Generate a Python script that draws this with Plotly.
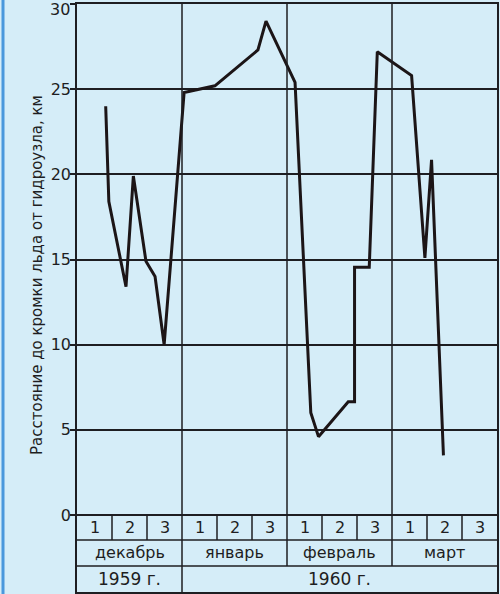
import plotly.graph_objects as go

# Data (x in ten-day periods "декады" from 1 Dec 1959)
decade_pos = [0.82, 0.91, 1.40, 1.61, 1.97, 2.23, 2.49, 3.06, 3.94, 5.17, 5.40, 6.23,
              6.68, 6.90, 7.75, 7.93, 7.93, 8.35, 8.58, 9.56, 9.94, 10.13, 10.47]
distance_km = [24.0, 18.4, 13.4, 19.9, 14.9, 14.0, 10.0, 24.8, 25.2, 27.3, 29.0, 25.4,
               6.0, 4.6, 6.65, 6.65, 14.55, 14.55, 27.2, 25.8, 15.1, 20.85, 3.5]

months = ["декабрь", "январь", "февраль", "март"]
decade_labels = ["1", "2", "3"]
years = ["1959 г.", "1960 г."]
year_spans = [(0, 3), (3, 12)]
y_ticks = [0, 5, 10, 15, 20, 25, 30]
y_top = 30

# table rows below zero (in km-units of the y axis)
row1 = -1.47
row2 = -2.99
row3 = -4.52

BG = "#d5edf8"
INK = "#1e1e22"
FONT = "DejaVu Sans"

fig = go.Figure()
fig.add_trace(go.Scatter(x=decade_pos, y=distance_km, mode="lines",
                         line=dict(color="#1c1517", width=3), hoverinfo="skip"))

shapes = []
for yy in (row1, row2):
    shapes.append(dict(type="line", x0=0, x1=12, y0=yy, y1=yy, xref="x", yref="y",
                       line=dict(color=INK, width=1.5)))
for k in range(1, 12):
    if k % 3 != 0:
        shapes.append(dict(type="line", x0=k, x1=k, y0=0, y1=row1, xref="x", yref="y",
                           line=dict(color=INK, width=1.5)))
for k in (3, 6, 9):
    bottom = row3 if k == 3 else row2
    shapes.append(dict(type="line", x0=k, x1=k, y0=30, y1=bottom, xref="x", yref="y",
                       line=dict(color=INK, width=1.5)))
# blue edge strip of the scanned page
shapes.append(dict(type="line", x0=-74 / 420, x1=-74 / 420, y0=-0.01, y1=1.01, xref="paper",
                   yref="paper", line=dict(color="#4a98dc", width=3)))

annotations = []
for m in range(4):
    for d, lab in enumerate(decade_labels):
        annotations.append(dict(x=m * 3 + d + 0.5, y=(0 + row1) / 2, xref="x", yref="y",
                                text=lab, showarrow=False,
                                font=dict(family=FONT, size=16, color=INK)))
    annotations.append(dict(x=m * 3 + 1.5, y=(row1 + row2) / 2, xref="x", yref="y",
                            text=months[m], showarrow=False,
                            font=dict(family=FONT, size=16, color=INK)))
for (a, b), lab in zip(year_spans, years):
    annotations.append(dict(x=(a + b) / 2, y=(row2 + row3) / 2, xref="x", yref="y",
                            text=lab, showarrow=False,
                            font=dict(family=FONT, size=17, color=INK)))
# top tick label, nudged down so it stays inside the page (as in the reference)
annotations.append(dict(x=0, y=y_top, xref="x", yref="y", xanchor="right", yanchor="top",
                        xshift=-5, yshift=6, text=str(y_top), showarrow=False,
                        font=dict(family=FONT, size=16, color=INK)))
annotations.append(dict(x=-40 / 420, y=(594 - 2 - 275) / 588, xref="paper", yref="paper",
                        xanchor="center", yanchor="middle",
                        text="Расстояние до кромки льда от гидроузла, км", textangle=-90,
                        showarrow=False, font=dict(family=FONT, size=15, color=INK)))

fig.update_layout(
    width=500, height=594,
    margin=dict(l=77, r=3, t=4, b=2, autoexpand=False),
    paper_bgcolor=BG, plot_bgcolor=BG,
    showlegend=False,
    shapes=shapes, annotations=annotations,
    xaxis=dict(range=[0, 12], showticklabels=False, showgrid=False, zeroline=False,
               showline=True, mirror=True, linecolor=INK, linewidth=1.5, ticks="",
               automargin=False),
    yaxis=dict(range=[row3, 30.001], tickvals=y_ticks,
               ticktext=["" if v == y_top else str(v) for v in y_ticks],
               showgrid=True, gridcolor=INK, gridwidth=1.5, zeroline=False,
               showline=True, mirror=True, linecolor=INK, linewidth=1.5,
               ticks="outside", ticklen=5, tickcolor=INK, tickwidth=1.5,
               ticklabelstandoff=-4,
               tickfont=dict(family=FONT, size=16, color=INK), automargin=False),
)

fig.write_html("out.html", config={"displayModeBar": False},
               post_script="document.body.style.margin='0';document.body.style.overflow='hidden';")
